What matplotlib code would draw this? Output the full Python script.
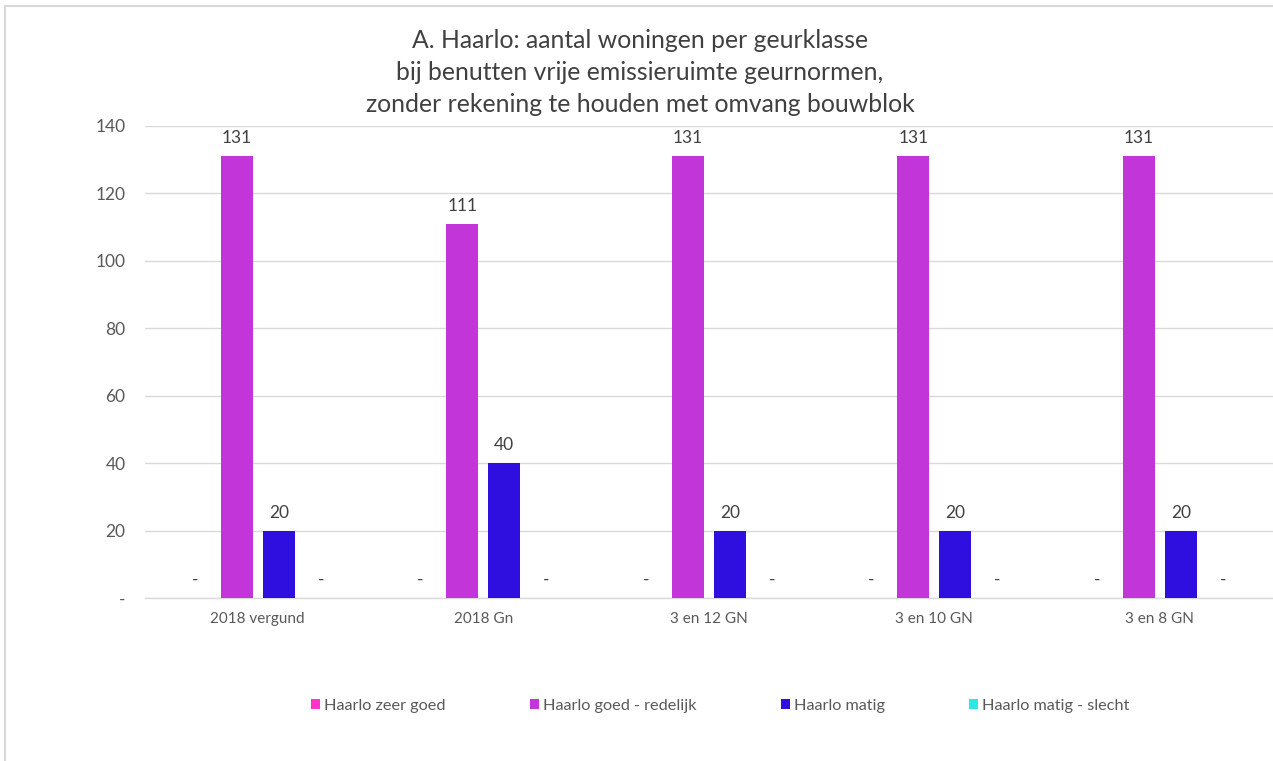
import matplotlib
matplotlib.use("Agg")
import matplotlib.pyplot as plt
from matplotlib.lines import Line2D
from matplotlib.patches import Patch
import numpy as np

categories = ["2018 vergund", "2018 Gn", "3 en 12 GN", "3 en 10 GN", "3 en 8 GN"]
series_names = ["Haarlo zeer goed", "Haarlo goed - redelijk", "Haarlo matig", "Haarlo matig - slecht"]
zeer_goed = [0, 0, 0, 0, 0]
goed_redelijk = [131, 111, 131, 131, 131]
matig = [20, 40, 20, 20, 20]
matig_slecht = [0, 0, 0, 0, 0]
series_values = [zeer_goed, goed_redelijk, matig, matig_slecht]
colors = ["#FF33CC", "#C236D9", "#2E0FE0", "#2CE8E0"]
yticks = [0, 20, 40, 60, 80, 100, 120, 140]
ytick_labels = ["-", "20", "40", "60", "80", "100", "120", "140"]
title_lines = ["A. Haarlo: aantal woningen per geurklasse",
               "bij benutten vrije emissieruimte geurnormen,",
               "zonder rekening te houden met omvang bouwblok"]

plt.rcParams['font.family'] = ['Lato', 'DejaVu Sans']

W, H = 1273, 761
fig = plt.figure(figsize=(W / 100, H / 100), dpi=100)
ax = fig.add_axes([145 / W, (H - 598) / H, (1272.5 - 145) / W, (598 - 126) / H])

x = np.arange(len(categories))
step = 42 / 225.5
width = 32 / 225.5
for i, (vals, col) in enumerate(zip(series_values, colors)):
    pos = x + (i - 1.5) * step
    ax.bar(pos, vals, width=width, color=col, zorder=3)
    for p, v in zip(pos, vals):
        ax.annotate("-" if v == 0 else str(v), (p, v), xytext=(0, 13),
                    textcoords="offset points", ha="center", va="center",
                    fontsize=12.5, color="#404040")

ax.set_xlim(-0.5, len(categories) - 0.5)
ax.set_ylim(0, 140)
ax.set_yticks(yticks)
ax.set_yticklabels(ytick_labels)
ax.set_xticks(x)
ax.set_xticklabels(categories)
ax.tick_params(axis="y", length=0, labelsize=12.5, labelcolor="#595959", pad=14)
ax.tick_params(axis="x", length=0, labelsize=11, labelcolor="#595959", pad=10)
ax.grid(axis="y", color="#D9D9D9", linewidth=1, zorder=0)
for s in ["top", "right", "left"]:
    ax.spines[s].set_visible(False)
ax.spines["bottom"].set_color("#D9D9D9")
ax.spines["bottom"].set_linewidth(1)

for k, line in enumerate(title_lines):
    fig.text(640 / W, 1 - (40 + 32 * k) / H, line, ha="center", va="center",
             fontsize=17.8, color="#404040")

handles = [Patch(facecolor=c, edgecolor="none") for c in colors]
leg = fig.legend(handles, series_names, loc="center", ncol=4,
                 bbox_to_anchor=(720 / W, 1 - 706 / H), frameon=False,
                 handlelength=0.55, handleheight=0.55, handletextpad=0.25,
                 columnspacing=5.2, fontsize=11.7)
for t in leg.get_texts():
    t.set_color("#595959")

fig.add_artist(Line2D([5.5 / W, 5.5 / W], [0, 1 - 5.5 / H], color="#D9D9D9", linewidth=1.5))
fig.add_artist(Line2D([5.5 / W, 1], [1 - 5.5 / H, 1 - 5.5 / H], color="#D9D9D9", linewidth=1.5))

fig.savefig("out.png", dpi=100)
